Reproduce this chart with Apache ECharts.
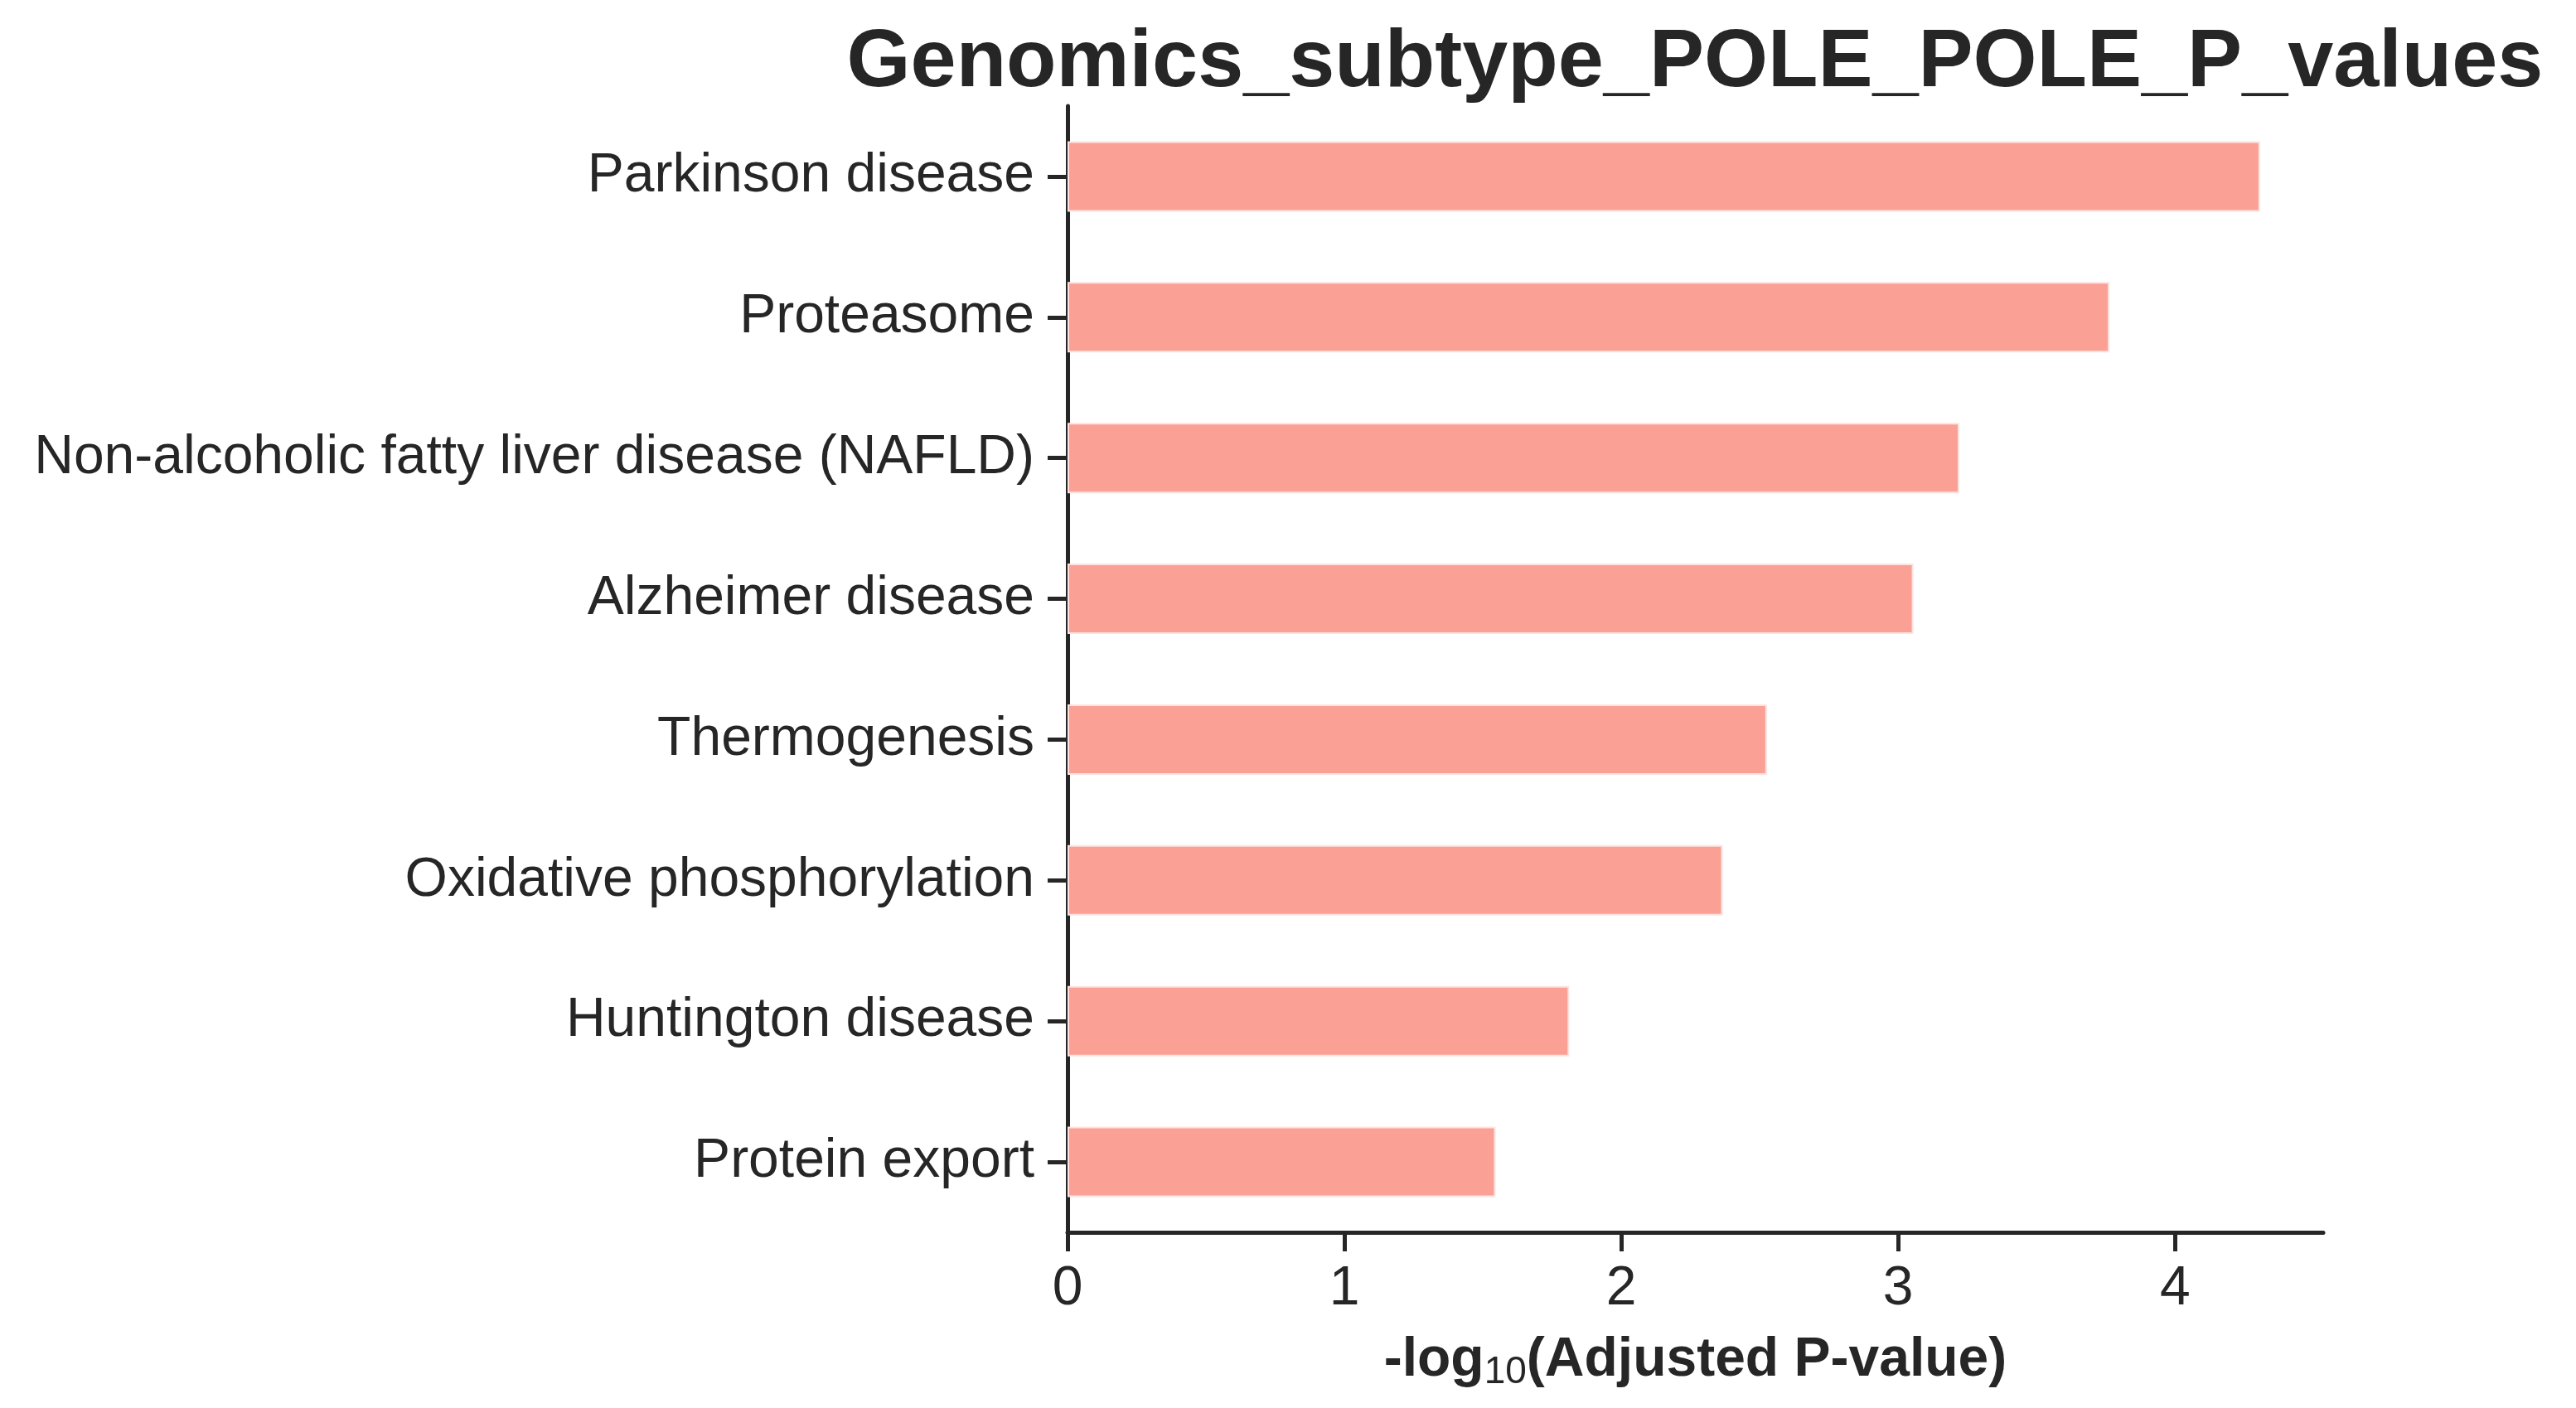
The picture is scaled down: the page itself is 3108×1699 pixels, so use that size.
<!DOCTYPE html>
<html>
<head>
<meta charset="utf-8">
<script src="https://cdn.jsdelivr.net/npm/echarts@6/dist/echarts.min.js"></script>
<style>
  html, body { margin: 0; padding: 0; background: #fff; }
  #chart { width: 3108px; height: 1699px; }
</style>
</head>
<body>
<div id="chart"></div>
<script>
// pathways, top to bottom
const pathways = [
    'Parkinson disease',
    'Proteasome',
    'Non-alcoholic fatty liver disease (NAFLD)',
    'Alzheimer disease',
    'Thermogenesis',
    'Oxidative phosphorylation',
    'Huntington disease',
    'Protein export'
];
// -log10(adjusted p)
const negLogP = [4.307, 3.763, 3.221, 3.055, 2.526, 2.366, 1.812, 1.546];
const xTicks = [0, 1, 2, 3, 4];
const xMax = 4.535;

const ink = '#262626';
const font = "'Liberation Sans', Arial, sans-serif";

let myChart = echarts.init(document.getElementById('chart'));
let option = {
    backgroundColor: '#fff',
    animation: false,
    title: {
        text: 'Genomics_subtype_POLE_POLE_P_values',
        left: 2040,
        textAlign: 'center',
        top: 22,
        textStyle: { fontFamily: font, fontSize: 99, fontWeight: 'bold', color: ink }
    },
    grid: { left: 1288, right: 305, top: 128, bottom: 212 },
    xAxis: {
        type: 'value',
        min: 0,
        max: xMax,
        interval: 1,
        splitLine: { show: false },
        axisLine: { show: true, lineStyle: { color: ink, width: 5 } },
        axisTick: { show: true, length: 23, lineStyle: { color: ink, width: 5 }, customValues: xTicks },
        axisLabel: { customValues: xTicks, margin: 36, fontFamily: font, fontSize: 66, color: ink },
        name: '{b|-log}{s|10}{b|(Adjusted P-value)}',
        nameLocation: 'middle',
        nameGap: 112,
        nameTextStyle: {
            rich: {
                b: { fontFamily: font, fontSize: 66, fontWeight: 'bold', color: ink, lineHeight: 76, verticalAlign: 'bottom' },
                s: { fontFamily: font, fontSize: 46, color: ink, lineHeight: 46, verticalAlign: 'bottom', padding: [0, 0, -4, 0] }
            }
        }
    },
    yAxis: {
        type: 'category',
        data: pathways,
        inverse: true,
        axisLine: { show: true, lineStyle: { color: ink, width: 5 } },
        axisTick: { show: true, alignWithLabel: true, length: 24, lineStyle: { color: ink, width: 5 } },
        axisLabel: { margin: 40, fontFamily: font, fontSize: 66, color: ink },
        splitLine: { show: false }
    },
    series: [{
        type: 'bar',
        data: negLogP,
        barWidth: '50%',
        itemStyle: { color: '#FBA095', borderColor: '#FDE3E0', borderWidth: 2 }
    }]
};
myChart.setOption(option);
</script>
</body>
</html>
